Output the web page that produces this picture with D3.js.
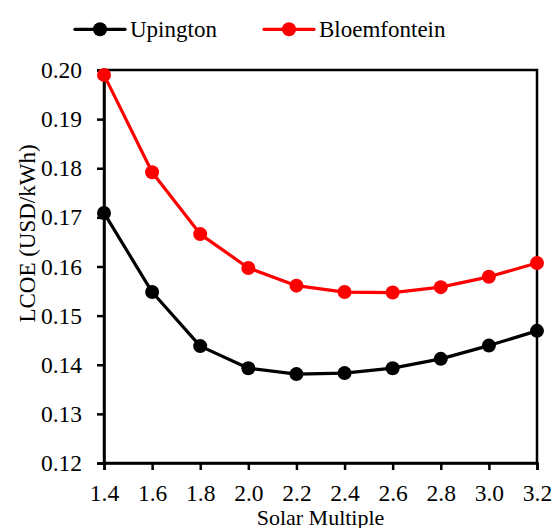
<!DOCTYPE html>
<html>
<head>
<meta charset="utf-8">
<script src="https://cdn.jsdelivr.net/npm/d3@7/dist/d3.min.js"></script>
<style>
  html, body { margin: 0; padding: 0; background: #fff; }
  svg { display: block; }
  text { font-family: "Liberation Serif", "Times New Roman", serif; fill: #000; }
</style>
</head>
<body>
<svg id="chart" width="556" height="528"></svg>
<script>
const solarMultiple = [1.4, 1.6, 1.8, 2.0, 2.2, 2.4, 2.6, 2.8, 3.0, 3.2];
const upington = [0.1709, 0.1548, 0.1438, 0.1393, 0.1381, 0.1383, 0.1393, 0.1412, 0.1439, 0.1469];
const bloemfontein = [0.1990, 0.1792, 0.1666, 0.1597, 0.1561, 0.1548, 0.1547, 0.1558, 0.1579, 0.1607];
const seriesNames = ["Upington", "Bloemfontein"];
const seriesColors = ["#000000", "#ff0000"];
const yTicks = [0.12, 0.13, 0.14, 0.15, 0.16, 0.17, 0.18, 0.19, 0.20];
const xTicks = [1.4, 1.6, 1.8, 2.0, 2.2, 2.4, 2.6, 2.8, 3.0, 3.2];
const xTitle = "Solar Multiple";
const yTitle = "LCOE (USD/kWh)";

const W = 556, H = 528;
const margin = {left: 104, right: 19, top: 70, bottom: 65};
const fontSize = 23;
const tickFontSize = 23.5;

const svg = d3.select("#chart");
const x = d3.scaleLinear().domain([1.4, 3.2]).range([margin.left, W - margin.right]);
const y = d3.scaleLinear().domain([0.12, 0.20]).range([H - margin.bottom, margin.top]);

// frame (top & right)
svg.append("rect")
  .attr("x", x(1.4)).attr("y", y(0.20))
  .attr("width", x(3.2) - x(1.4)).attr("height", y(0.12) - y(0.20))
  .attr("fill", "none").attr("stroke", "#000").attr("stroke-width", 2.5);

// axes
const xAxis = svg.append("g")
  .attr("transform", `translate(0,${y(0.12)})`)
  .call(d3.axisBottom(x).tickValues(xTicks).tickFormat(d3.format(".1f")).tickSize(7).tickPadding(14));
const yAxis = svg.append("g")
  .attr("transform", `translate(${x(1.4)},0)`)
  .call(d3.axisLeft(y).tickValues(yTicks).tickFormat(d3.format(".2f")).tickSize(7).tickPadding(15));
[xAxis, yAxis].forEach(g => {
  g.attr("font-family", null).attr("font-size", null);
  g.select(".domain").attr("stroke", "#000").attr("stroke-width", 2.5);
  g.selectAll(".tick line").attr("stroke", "#000").attr("stroke-width", 2.5);
  g.selectAll(".tick text").style("font-family", '"Liberation Serif", serif').style("font-size", tickFontSize + "px").attr("fill", "#000");
});

// series
const allSeries = [upington, bloemfontein];
const line = d3.line().x((d, i) => x(solarMultiple[i])).y(d => y(d));
allSeries.forEach((vals, si) => {
  svg.append("path").datum(vals)
    .attr("d", line).attr("fill", "none")
    .attr("stroke", seriesColors[si]).attr("stroke-width", 3.2)
    .attr("stroke-linejoin", "round");
  svg.append("g").selectAll("circle").data(vals).join("circle")
    .attr("cx", (d, i) => x(solarMultiple[i])).attr("cy", d => y(d))
    .attr("r", 7).attr("fill", seriesColors[si]);
});

// axis titles
svg.append("text")
  .attr("x", (x(1.4) + x(3.2)) / 2).attr("y", 525)
  .attr("text-anchor", "middle").style("font-size", "22px")
  .text(xTitle);
svg.append("text")
  .attr("transform", "translate(35,233.5) rotate(-90)")
  .attr("text-anchor", "middle").style("font-size", fontSize + "px")
  .text(yTitle);

// legend
const legendX = [75, 264];
seriesNames.forEach((name, si) => {
  const lx = legendX[si], ly = 29.3;
  const g = svg.append("g");
  g.append("line").attr("x1", lx).attr("x2", lx + 50).attr("y1", ly).attr("y2", ly)
    .attr("stroke", seriesColors[si]).attr("stroke-width", 3.2).attr("stroke-linecap", "round");
  g.append("circle").attr("cx", lx + 25).attr("cy", ly).attr("r", 7).attr("fill", seriesColors[si]);
  g.append("text").attr("x", lx + 55).attr("y", 37).style("font-size", fontSize + "px").text(name);
});
</script>
</body>
</html>
